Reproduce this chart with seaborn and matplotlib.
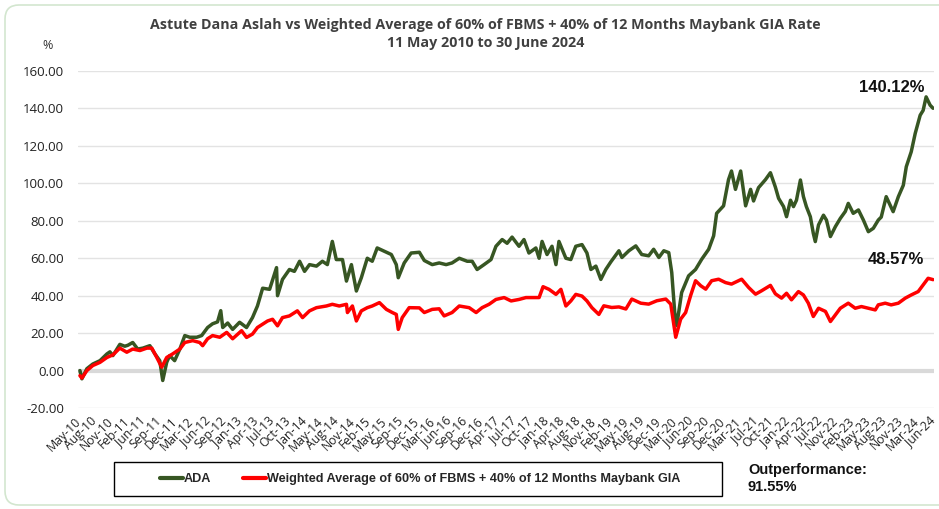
import numpy as np
import pandas as pd
import matplotlib
matplotlib.use("Agg")
import matplotlib.pyplot as plt
from matplotlib.lines import Line2D
from matplotlib.patches import Rectangle, FancyBboxPatch
import seaborn as sns

# trading-day index (0 = 11 May 2010) and cumulative return in %
ada_day = [4, 12, 32, 56, 85, 113, 125, 137, 165, 185, 197, 217, 237, 258, 286, 306, 326, 338,
           354, 366, 386, 407, 427, 447, 475, 495, 519, 539, 559, 572, 580, 600, 620, 648, 676,
           700, 720, 741, 769, 797, 801, 821, 849, 869, 890, 910, 930, 958, 982, 1002, 1022,
           1038, 1063, 1079, 1099, 1119, 1139, 1163, 1183, 1203, 1232, 1260, 1280, 1288, 1312,
           1340, 1373, 1393, 1425, 1453, 1481, 1505, 1534, 1566, 1586, 1606, 1634, 1662, 1682,
           1707, 1727, 1747, 1775, 1795, 1815, 1843, 1856, 1868, 1888, 1908, 1924, 1936, 1964,
           1984, 2004, 2029, 2049, 2065, 2085, 2105, 2125, 2145, 2178, 2190, 2218, 2246, 2270,
           2298, 2318, 2339, 2359, 2379, 2391, 2403, 2411, 2431, 2459, 2487, 2512, 2540, 2560,
           2572, 2600, 2620, 2632, 2648, 2669, 2689, 2709, 2721, 2741, 2769, 2789, 2809, 2822,
           2842, 2854, 2870, 2882, 2894, 2910, 2922, 2934, 2950, 2962, 2970, 2983, 3003, 3015,
           3031, 3051, 3071, 3091, 3103, 3123, 3144, 3164, 3184, 3204, 3224, 3236, 3256, 3284,
           3305, 3325, 3337, 3357, 3373, 3393, 3405, 3417, 3433, 3445]
ada_val = [0.0, -4.4, 1.0, 3.5, 5.3, 8.9, 10.0, 8.0, 14.0, 13.0, 13.5, 15.0, 11.5, 12.0, 13.3,
           9.0, 5.3, -5.3, 4.4, 8.0, 5.3, 11.5, 18.7, 17.8, 17.8, 18.7, 23.0, 25.0, 26.0, 32.0,
           23.0, 25.4, 22.0, 25.8, 23.0, 28.3, 34.5, 44.0, 43.4, 55.0, 40.0, 48.7, 54.0, 53.0,
           58.4, 53.0, 56.6, 55.8, 58.4, 56.6, 69.0, 59.3, 59.3, 47.8, 56.6, 42.5, 49.6, 60.0,
           58.4, 65.5, 63.7, 62.0, 56.6, 49.6, 57.5, 62.8, 63.2, 58.8, 56.6, 57.5, 56.6, 57.5,
           60.0, 58.4, 58.4, 54.0, 56.6, 59.3, 66.4, 70.0, 68.0, 71.3, 66.4, 70.0, 62.8, 65.5,
           60.0, 69.0, 62.0, 66.4, 56.6, 69.0, 60.0, 59.3, 66.4, 67.3, 62.8, 54.0, 55.8, 48.7,
           54.0, 58.0, 64.0, 60.4, 64.0, 66.6, 62.0, 61.3, 64.8, 60.4, 64.0, 63.0, 52.4, 31.0,
           24.0, 41.7, 50.6, 54.0, 59.5, 64.8, 72.0, 84.0, 88.0, 102.0, 106.6, 96.8, 106.6, 88.0,
           96.8, 90.6, 97.7, 102.0, 105.7, 98.0, 92.0, 87.6, 82.2, 91.0, 87.6, 91.0, 101.8, 93.0,
           87.6, 82.2, 73.3, 68.9, 77.8, 83.0, 80.4, 71.6, 76.9, 81.3, 85.0, 89.3, 84.0, 85.8,
           80.4, 74.2, 76.0, 80.4, 82.0, 92.9, 84.9, 92.9, 99.0, 108.9, 116.9, 126.7, 136.4,
           139.0, 146.2, 141.8, 140.12]

bm_day = [4, 12, 32, 56, 85, 113, 137, 165, 193, 217, 246, 274, 294, 314, 334, 354, 378, 407,
          427, 459, 487, 499, 519, 539, 568, 596, 620, 656, 676, 700, 720, 741, 761, 781, 801,
          821, 849, 881, 902, 930, 958, 998, 1022, 1050, 1079, 1083, 1103, 1119, 1139, 1163,
          1183, 1212, 1240, 1264, 1280, 1288, 1304, 1332, 1373, 1393, 1425, 1453, 1473, 1505,
          1534, 1574, 1602, 1626, 1654, 1682, 1715, 1743, 1775, 1803, 1835, 1856, 1872, 1896,
          1924, 1944, 1964, 1984, 2004, 2029, 2049, 2069, 2097, 2117, 2149, 2178, 2206, 2230,
          2266, 2298, 2331, 2367, 2387, 2407, 2427, 2447, 2467, 2487, 2508, 2528, 2552, 2580,
          2608, 2632, 2652, 2673, 2701, 2729, 2753, 2789, 2809, 2834, 2854, 2874, 2902, 2922,
          2942, 2962, 2983, 3011, 3031, 3051, 3071, 3103, 3131, 3156, 3184, 3212, 3224, 3252,
          3276, 3305, 3333, 3357, 3385, 3405, 3425, 3445]
bm_val = [-2.7, -4.0, 0.0, 2.7, 4.4, 7.0, 8.4, 12.0, 9.8, 11.5, 10.7, 12.0, 12.0, 7.0, 1.8, 7.0,
          8.9, 11.5, 15.0, 16.0, 15.0, 13.3, 17.0, 18.7, 17.8, 20.4, 17.0, 21.3, 17.7, 19.5,
          23.0, 24.8, 26.5, 27.4, 23.9, 28.3, 29.2, 31.9, 28.3, 31.9, 33.6, 34.5, 35.4, 34.5,
          35.4, 31.0, 34.5, 26.5, 31.9, 33.6, 34.5, 36.3, 32.7, 31.0, 30.0, 22.0, 28.3, 33.6,
          33.5, 31.0, 32.7, 33.0, 29.2, 31.0, 34.5, 33.6, 31.0, 33.6, 35.4, 38.0, 39.0, 37.2,
          38.0, 39.0, 39.0, 39.0, 44.8, 43.4, 40.7, 43.4, 34.5, 37.2, 40.7, 39.8, 37.2, 33.6,
          30.0, 34.6, 33.7, 34.0, 32.9, 38.2, 36.0, 35.5, 37.3, 38.2, 35.5, 17.8, 27.5, 31.0,
          40.0, 48.0, 45.3, 43.5, 48.0, 48.8, 47.0, 46.2, 47.5, 48.8, 44.4, 40.8, 42.6, 45.5,
          41.0, 38.7, 41.3, 37.8, 42.2, 40.4, 36.0, 28.9, 33.3, 31.6, 26.2, 29.8, 33.3, 36.0,
          33.3, 34.2, 33.3, 32.4, 35.1, 36.0, 35.1, 36.0, 38.7, 40.4, 42.2, 45.8, 49.3, 48.57]

tick_labels = ["May-10", "Aug-10", "Nov-10", "Feb-11", "Jun-11", "Sep-11", "Dec-11", "Mar-12",
               "Jun-12", "Sep-12", "Jan-13", "Apr-13", "Jul-13", "Oct-13", "Jan-14", "May-14",
               "Aug-14", "Nov-14", "Feb-15", "May-15", "Sep-15", "Dec-15", "Mar-16", "Jun-16",
               "Sep-16", "Dec-16", "Apr-17", "Jul-17", "Oct-17", "Jan-18", "Apr-18", "Aug-18",
               "Nov-18", "Feb-19", "May-19", "Aug-19", "Dec-19", "Mar-20", "Jun-20", "Sep-20",
               "Dec-20", "Mar-21", "Jul-21", "Oct-21", "Jan-22", "Apr-22", "Jul-22", "Nov-22",
               "Feb-23", "May-23", "Aug-23", "Nov-23", "Mar-24", "Jun-24"]
tick_step = 65  # trading days between category labels

ada_name = "ADA"
bm_name = "Weighted Average of 60% of FBMS + 40% of 12 Months Maybank GIA"
green = "#375623"
red = "#FF0000"

df = pd.concat([
    pd.DataFrame({"day": ada_day, "value": ada_val, "series": ada_name}),
    pd.DataFrame({"day": bm_day, "value": bm_val, "series": bm_name}),
])

sns.set_style("white")
plt.rcParams["font.family"] = ["Open Sans", "DejaVu Sans"]

fig = plt.figure(figsize=(9.39, 5.09), dpi=100)
ax = fig.add_axes([0.083, 0.1984, 0.912, 0.662])

ax.axhline(0, color="#d9d9d9", lw=3, zorder=1)
sns.lineplot(data=df, x="day", y="value", hue="series", palette=[green, red],
             hue_order=[ada_name, bm_name], linewidth=2.5, legend=False, ax=ax, zorder=3)

ax.set_ylim(-20, 160)
ax.set_xlim(-4, 3450)
ax.set_yticks(np.arange(-20, 161, 20))
ax.set_yticklabels([f"{v:.2f}" for v in np.arange(-20, 161, 20)], fontsize=9.5, color="#222222")
ax.set_xticks(np.arange(len(tick_labels)) * tick_step)
ax.set_xticklabels(tick_labels, rotation=45, ha="right", va="center", rotation_mode="anchor",
                   fontsize=8.8, color="#222222")
ax.tick_params(axis="both", length=0)
ax.tick_params(axis="y", pad=10)
ax.tick_params(axis="x", pad=8)
ax.grid(axis="y", color="#e3e3e3", lw=1)
ax.set_xlabel("")
ax.set_ylabel("")
for s in ax.spines.values():
    s.set_visible(False)

ax.text(3410, 151, "140.12%", ha="right", va="center", fontsize=12, fontweight="bold",
        family="Liberation Sans", color="#111111")
ax.text(3410, 59.5, "48.57%", ha="right", va="center", fontsize=12, fontweight="bold",
        family="Liberation Sans", color="#111111")

fig.text(0.517, 0.951, "Astute Dana Aslah vs Weighted Average of 60% of FBMS + 40% of 12 Months Maybank GIA Rate",
         ha="center", va="center", fontsize=10.3, fontweight="bold", color="#404040")
fig.text(0.517, 0.915, "11 May 2010 to 30 June 2024", ha="center", va="center",
         fontsize=10.3, fontweight="bold", color="#404040")
fig.text(0.051, 0.91, "%", ha="center", va="center", fontsize=9, color="#333333")

# legend box and entries
fig.add_artist(Rectangle((114, 13), 608, 34, transform=None, fill=False, ec="black", lw=1))
handles = [Line2D([], [], color=green, lw=3), Line2D([], [], color=red, lw=3)]
fig.legend(handles, [ada_name, bm_name], loc="center", bbox_to_anchor=(420 / 939, 30 / 509),
           ncol=2, frameon=False, handlelength=1.8, handletextpad=0.05, columnspacing=2.6,
           prop={"family": "Liberation Sans", "weight": "bold", "size": 9.1})

fig.text(748 / 939, 1 - 470 / 509, "Outperformance:", ha="left", va="center", fontsize=10.5,
         fontweight="bold", family="Liberation Sans", color="#111111")
fig.text(748 / 939, 1 - 487 / 509, "91.55%", ha="left", va="center", fontsize=10.5,
         fontweight="bold", family="Liberation Sans", color="#111111")

fig.add_artist(FancyBboxPatch((5, 4), 960, 500, boxstyle="round,pad=0,rounding_size=14",
                              transform=None, fill=False, ec="#d3e6cf", lw=1.2))

plt.savefig("out.png", dpi=100)
